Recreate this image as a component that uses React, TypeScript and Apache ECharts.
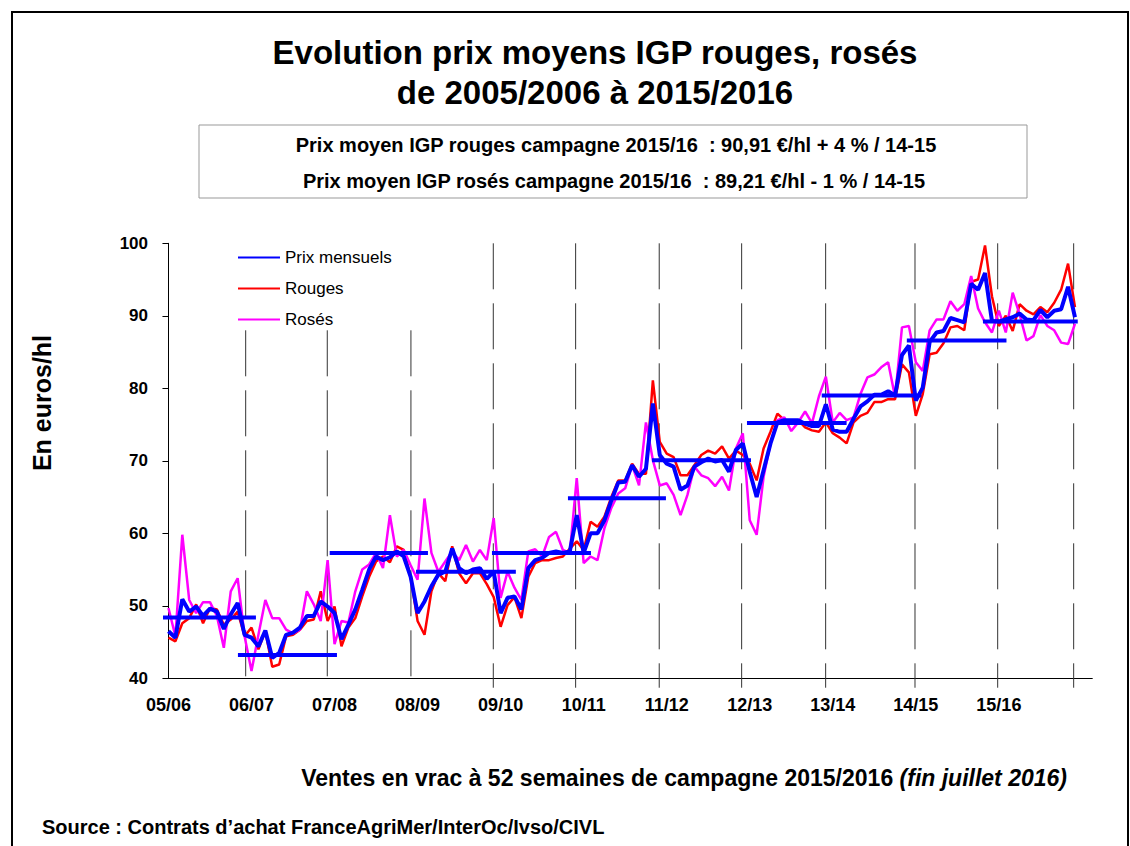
import React, { useEffect, useRef } from "react";
import * as echarts from "echarts";

// Campaign labels (one per 12 months)
const campaigns = ["05/06", "06/07", "07/08", "08/09", "09/10", "10/11", "11/12", "12/13", "13/14", "14/15", "15/16"];

// Monthly prices (€/hl), Aug 2005 -> Jul 2016
const prixMensuels = [
  46.5, 45.6, 50.9, 49.2, 49.9, 48.6, 49.6, 49.2, 46.8, 48.8, 50.4, 46.0,
  45.6, 44.4, 46.6, 42.8, 43.5, 46.0, 46.3, 47.0, 48.6, 48.6, 50.6, 49.9,
  49.0, 45.4, 47.4, 49.5, 52.2, 55.0, 56.8, 56.3, 56.7, 57.5, 56.8, 54.0,
  49.0, 50.6, 52.7, 54.3, 54.7, 57.9, 55.2, 54.5, 55.0, 55.2, 53.7, 54.7,
  49.0, 51.1, 51.3, 49.5, 55.2, 56.3, 56.6, 57.3, 57.5, 57.3, 57.5, 62.5,
  57.3, 60.0, 60.0, 61.8, 64.5, 67.0, 67.1, 69.4, 67.8, 68.9, 77.9, 70.8,
  69.6, 69.2, 66.0, 66.6, 69.2, 69.8, 70.3, 69.9, 70.1, 68.5, 71.5, 72.4,
  68.5, 65.0, 68.7, 72.4, 75.3, 75.6, 75.6, 75.6, 75.1, 74.8, 74.8, 77.8,
  74.3, 74.0, 74.0, 75.8, 77.5, 78.2, 79.1, 79.1, 79.6, 79.0, 84.6, 85.9,
  78.3, 80.1, 86.4, 87.7, 87.9, 89.7, 89.4, 89.1, 94.4, 93.6, 95.9, 89.3,
  89.2, 89.5, 89.8, 90.3, 89.5, 89.4, 90.8, 89.8, 90.7, 90.9, 94.0, 89.8,
];

const rouges = [
  45.6, 45.1, 47.6, 48.3, 50.2, 47.6, 49.7, 49.5, 47.4, 48.1, 49.2, 45.8,
  47.0, 44.0, 46.5, 41.6, 41.9, 45.8, 46.0, 46.7, 47.9, 48.1, 52.0, 47.9,
  49.9, 44.4, 47.0, 48.3, 51.3, 54.0, 56.1, 56.8, 56.0, 58.2, 57.7, 54.0,
  47.9, 46.0, 52.0, 54.5, 53.4, 58.2, 54.5, 53.1, 54.5, 54.5, 53.0, 51.2,
  47.1, 50.1, 51.2, 48.3, 54.0, 55.9, 56.3, 56.3, 56.6, 56.8, 57.9, 58.9,
  57.7, 61.6, 60.9, 62.3, 65.0, 67.3, 67.3, 69.6, 68.2, 68.2, 81.1, 72.6,
  71.0, 70.5, 68.0, 68.0, 69.4, 70.8, 71.4, 71.0, 72.0, 70.3, 71.4, 70.8,
  69.6, 67.3, 71.7, 74.0, 76.5, 75.6, 75.6, 75.6, 74.6, 74.2, 74.0, 75.3,
  73.8, 73.2, 72.4, 75.3, 76.2, 76.6, 78.1, 78.1, 78.5, 78.5, 83.3, 82.2,
  76.2, 79.2, 84.7, 84.9, 86.2, 88.4, 88.6, 88.0, 94.7, 95.0, 99.7, 92.7,
  88.6, 90.0, 87.9, 91.6, 90.7, 90.2, 91.2, 90.5, 91.8, 93.6, 97.2, 91.2,
];

const roses = [
  49.7, 45.8, 59.8, 50.8, 49.0, 50.5, 50.5, 48.6, 44.2, 52.0, 53.8, 45.8,
  41.0, 46.0, 50.8, 48.3, 48.3, 46.7, 46.2, 46.7, 52.0, 50.2, 47.9, 56.3,
  44.7, 47.9, 47.7, 52.0, 55.0, 55.7, 57.3, 55.2, 62.5, 56.8, 57.7, 55.6,
  53.6, 64.8, 57.3, 54.7, 56.1, 57.5, 56.3, 58.4, 56.1, 57.7, 56.3, 62.1,
  51.1, 54.7, 52.5, 50.8, 57.5, 57.8, 56.8, 59.5, 60.2, 57.7, 57.3, 67.6,
  55.9, 56.8, 56.3, 60.7, 63.5, 65.5, 66.2, 69.4, 66.6, 75.3, 70.1, 66.6,
  66.9, 65.3, 62.5, 65.3, 69.2, 68.0, 67.6, 66.5, 67.8, 65.9, 71.7, 73.8,
  61.8, 59.8, 67.8, 72.4, 75.6, 76.0, 74.1, 75.3, 76.8, 75.2, 78.9, 81.6,
  75.3, 76.6, 75.6, 76.0, 79.2, 81.5, 81.9, 82.9, 83.6, 78.8, 88.4, 88.6,
  83.6, 82.4, 88.0, 89.5, 89.5, 92.0, 90.7, 91.6, 95.5, 91.0, 89.1, 87.7,
  90.7, 87.7, 93.2, 90.2, 86.6, 87.2, 90.1, 88.6, 88.0, 86.3, 86.1, 88.9,
];

// Campaign average (€/hl) with start / end of each average bar (in month index units)
const moyennesAnnuelles = [48.4, 43.2, 57.3, 54.7, 57.3, 64.85, 70.07, 75.2, 79.0, 86.6, 89.2];
const moyenneDebut = [-2.38, 10.04, 23.3, 35.77, 46.75, 57.73, 69.87, 83.6, 94.4, 106.7, 117.7];
const moyenneFin = [12.64, 24.35, 37.5, 50.2, 61.06, 71.89, 84.18, 98.0, 108.8, 121.1, 131.4];

// Campaign separators (month index units) and their top value
const separateurs = [11.16, 22.95, 35.04, 46.94, 58.84, 70.92, 82.83, 94.97, 107.88, 119.83, 130.81];
const separateursHaut = [88, 88, 88, 100, 100, 100, 100, 100, 100, 100, 100];

const yTicks = [40, 50, 60, 70, 80, 90, 100];

const N_CATS = 134;
const FONT = "'Liberation Sans', Arial, Helvetica, sans-serif";

export default function App() {
  const ref = useRef<HTMLDivElement>(null);

  useEffect(() => {
    if (!ref.current) return;
    const chart = echarts.init(ref.current, undefined, { renderer: "svg" });

    const catLabels = Array.from({ length: N_CATS }, (_, i) =>
      i % 12 === 0 && i / 12 < campaigns.length ? campaigns[i / 12] : ""
    );

    const avgSeries = moyennesAnnuelles.map((v, k) => ({
      type: "line",
      name: "moy" + k,
      xAxisIndex: 1,
      yAxisIndex: 0,
      data: [
        [moyenneDebut[k], v],
        [moyenneFin[k], v],
      ],
      symbol: "none",
      clip: false,
      lineStyle: { color: "#0000FF", width: 4 },
      z: 5,
      silent: true,
    }));

    const sepSeries = separateurs.map((x, k) => ({
      type: "line",
      name: "sep" + k,
      xAxisIndex: 1,
      yAxisIndex: 0,
      data: [
        [x, separateursHaut[k]],
        [x, 38.7],
      ],
      symbol: "none",
      clip: false,
      lineStyle: { color: "#333333", width: 1, type: [46, 14] },
      z: 1,
      silent: true,
    }));

    const option: any = {
      animation: false,
      backgroundColor: "#ffffff",
      textStyle: { fontFamily: FONT },
      title: {
        text: "Evolution prix moyens IGP rouges, rosés\nde 2005/2006 à 2015/2016",
        left: 590,
        top: 27,
        padding: 5,
        textAlign: "center",
        textStyle: { fontSize: 33, fontWeight: "bold", color: "#000", lineHeight: 40, fontFamily: FONT },
      },
      legend: {
        data: ["Prix mensuels", "Rouges", "Rosés"],
        orient: "vertical",
        left: 237,
        top: 249,
        padding: 0,
        itemWidth: 42,
        itemHeight: 14,
        itemGap: 14,
        itemStyle: { opacity: 0 },
        textStyle: { fontSize: 17, color: "#000", fontFamily: FONT },
        selectedMode: false,
      },
      grid: {
        left: 165,
        top: 243.3,
        width: N_CATS * 6.92,
        height: 435,
        containLabel: false,
      },
      xAxis: [
        {
          type: "category",
          data: catLabels,
          boundaryGap: true,
          axisLine: { lineStyle: { color: "#000", width: 1 } },
          axisTick: { show: false },
          axisLabel: {
            interval: 0,
            margin: 18,
            fontSize: 18,
            fontWeight: "bold",
            color: "#000",
            fontFamily: FONT,
          },
          splitLine: { show: false },
        },
        {
          type: "value",
          min: -0.5,
          max: N_CATS - 0.5,
          show: false,
          splitLine: { show: false },
        },
      ],
      yAxis: {
        type: "value",
        min: yTicks[0],
        max: yTicks[yTicks.length - 1],
        interval: 10,
        axisLine: { show: true, lineStyle: { color: "#000", width: 1 } },
        axisTick: { show: true, length: 6, lineStyle: { color: "#000" } },
        axisLabel: { margin: 17, fontSize: 17, fontWeight: "bold", color: "#000", fontFamily: FONT },
        splitLine: { show: false },
      },
      graphic: [
        {
          type: "rect",
          shape: { x: 12, y: 12, width: 1116, height: 900 },
          style: { fill: "none", stroke: "#000", lineWidth: 2 },
          silent: true,
        },
        {
          type: "rect",
          shape: { x: 199, y: 125, width: 828, height: 73 },
          style: { fill: "#fff", stroke: "#999", lineWidth: 1 },
          silent: true,
        },
        {
          type: "text",
          x: 616,
          y: 145,
          style: {
            text: "Prix moyen IGP rouges campagne 2015/16  : 90,91 €/hl + 4 % / 14-15",
            font: "bold 20px " + FONT,
            fill: "#000",
            align: "center",
            verticalAlign: "middle",
          },
        },
        {
          type: "text",
          x: 614,
          y: 181,
          style: {
            text: "Prix moyen IGP rosés campagne 2015/16  : 89,21 €/hl - 1 % / 14-15",
            font: "bold 20px " + FONT,
            fill: "#000",
            align: "center",
            verticalAlign: "middle",
          },
        },
        {
          type: "text",
          x: 42,
          y: 403,
          rotation: Math.PI / 2,
          style: {
            text: "En euros/hl",
            font: "bold 25px " + FONT,
            fill: "#000",
            align: "center",
            verticalAlign: "middle",
          },
        },
        {
          type: "text",
          x: 1067,
          y: 778,
          style: {
            text: "{a|Ventes en vrac à 52 semaines de campagne 2015/2016 }{b|(fin juillet 2016)}",
            align: "right",
            verticalAlign: "middle",
            rich: {
              a: { font: "bold 23px " + FONT, fill: "#000" },
              b: { font: "italic bold 23px " + FONT, fill: "#000" },
            },
          },
        },
        {
          type: "text",
          x: 42,
          y: 827,
          style: {
            text: "Source : Contrats d’achat FranceAgriMer/InterOc/Ivso/CIVL",
            font: "bold 20px " + FONT,
            fill: "#000",
            align: "left",
            verticalAlign: "middle",
          },
        },
      ],
      series: [
        ...sepSeries,
        {
          type: "line",
          name: "Rouges",
          xAxisIndex: 0,
          data: rouges,
          symbol: "none",
          lineStyle: { color: "#FF0000", width: 2.5 },
          itemStyle: { color: "#FF0000" },
          z: 2,
        },
        {
          type: "line",
          name: "Rosés",
          xAxisIndex: 0,
          data: roses,
          symbol: "none",
          lineStyle: { color: "#FF00FF", width: 2.5 },
          itemStyle: { color: "#FF00FF" },
          z: 3,
        },
        {
          type: "line",
          name: "Prix mensuels",
          xAxisIndex: 0,
          data: prixMensuels,
          symbol: "none",
          lineStyle: { color: "#0000FF", width: 4 },
          itemStyle: { color: "#0000FF" },
          z: 4,
        },
        ...avgSeries,
      ],
    };

    chart.setOption(option);
    return () => chart.dispose();
  }, []);

  return (
    <div
      ref={ref}
      style={{ position: "absolute", left: 0, top: 0, width: 1130, height: 846, background: "#fff" }}
    />
  );
}
